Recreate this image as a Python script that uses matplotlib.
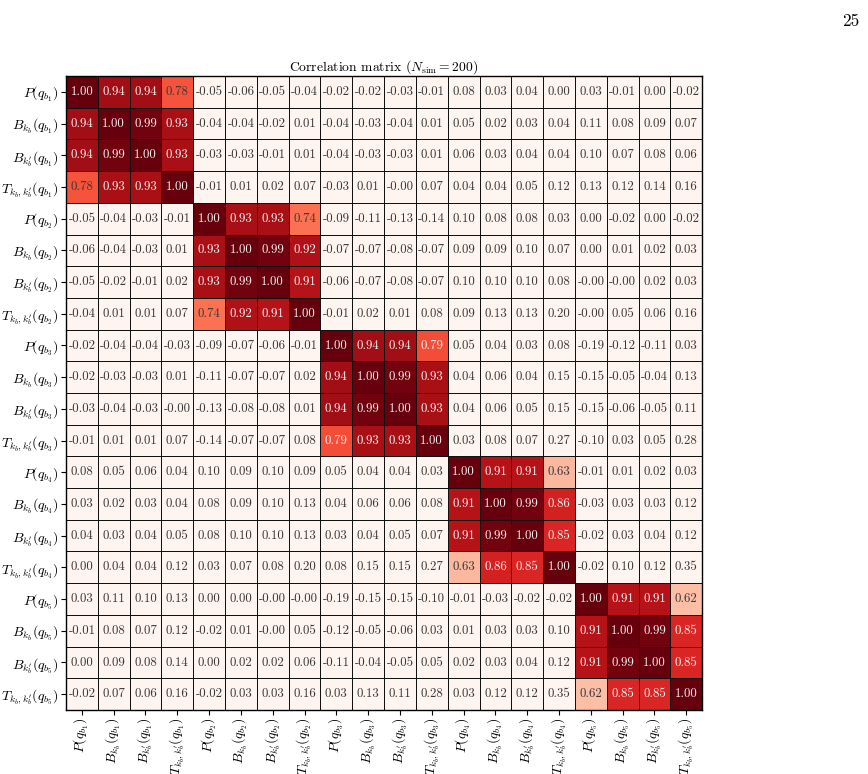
import numpy as np
import matplotlib
matplotlib.use("Agg")
import matplotlib.pyplot as plt

plt.rcParams['font.family'] = ['cmr10', 'DejaVu Serif']
plt.rcParams['mathtext.fontset'] = 'cm'
plt.rcParams['axes.formatter.use_mathtext'] = True

bins = [1, 2, 3, 4, 5]
quantities = [r"P(q_{{b_{0}}})", r"B_{{k_b}}(q_{{b_{0}}})", r"B_{{k_b'}}(q_{{b_{0}}})",
              r"T_{{k_b,k_b'}}(q_{{b_{0}}})"]
labels = ["$" + q.format(b) + "$" for b in bins for q in quantities]

corr = [
    [1.00, 0.94, 0.94, 0.78, -0.05, -0.06, -0.05, -0.04, -0.02, -0.02, -0.03, -0.01, 0.08, 0.03, 0.04, 0.00, 0.03, -0.01, 0.00, -0.02],
    [0.94, 1.00, 0.99, 0.93, -0.04, -0.04, -0.02, 0.01, -0.04, -0.03, -0.04, 0.01, 0.05, 0.02, 0.03, 0.04, 0.11, 0.08, 0.09, 0.07],
    [0.94, 0.99, 1.00, 0.93, -0.03, -0.03, -0.01, 0.01, -0.04, -0.03, -0.03, 0.01, 0.06, 0.03, 0.04, 0.04, 0.10, 0.07, 0.08, 0.06],
    [0.78, 0.93, 0.93, 1.00, -0.01, 0.01, 0.02, 0.07, -0.03, 0.01, -0.00, 0.07, 0.04, 0.04, 0.05, 0.12, 0.13, 0.12, 0.14, 0.16],
    [-0.05, -0.04, -0.03, -0.01, 1.00, 0.93, 0.93, 0.74, -0.09, -0.11, -0.13, -0.14, 0.10, 0.08, 0.08, 0.03, 0.00, -0.02, 0.00, -0.02],
    [-0.06, -0.04, -0.03, 0.01, 0.93, 1.00, 0.99, 0.92, -0.07, -0.07, -0.08, -0.07, 0.09, 0.09, 0.10, 0.07, 0.00, 0.01, 0.02, 0.03],
    [-0.05, -0.02, -0.01, 0.02, 0.93, 0.99, 1.00, 0.91, -0.06, -0.07, -0.08, -0.07, 0.10, 0.10, 0.10, 0.08, -0.00, -0.00, 0.02, 0.03],
    [-0.04, 0.01, 0.01, 0.07, 0.74, 0.92, 0.91, 1.00, -0.01, 0.02, 0.01, 0.08, 0.09, 0.13, 0.13, 0.20, -0.00, 0.05, 0.06, 0.16],
    [-0.02, -0.04, -0.04, -0.03, -0.09, -0.07, -0.06, -0.01, 1.00, 0.94, 0.94, 0.79, 0.05, 0.04, 0.03, 0.08, -0.19, -0.12, -0.11, 0.03],
    [-0.02, -0.03, -0.03, 0.01, -0.11, -0.07, -0.07, 0.02, 0.94, 1.00, 0.99, 0.93, 0.04, 0.06, 0.04, 0.15, -0.15, -0.05, -0.04, 0.13],
    [-0.03, -0.04, -0.03, -0.00, -0.13, -0.08, -0.08, 0.01, 0.94, 0.99, 1.00, 0.93, 0.04, 0.06, 0.05, 0.15, -0.15, -0.06, -0.05, 0.11],
    [-0.01, 0.01, 0.01, 0.07, -0.14, -0.07, -0.07, 0.08, 0.79, 0.93, 0.93, 1.00, 0.03, 0.08, 0.07, 0.27, -0.10, 0.03, 0.05, 0.28],
    [0.08, 0.05, 0.06, 0.04, 0.10, 0.09, 0.10, 0.09, 0.05, 0.04, 0.04, 0.03, 1.00, 0.91, 0.91, 0.63, -0.01, 0.01, 0.02, 0.03],
    [0.03, 0.02, 0.03, 0.04, 0.08, 0.09, 0.10, 0.13, 0.04, 0.06, 0.06, 0.08, 0.91, 1.00, 0.99, 0.86, -0.03, 0.03, 0.03, 0.12],
    [0.04, 0.03, 0.04, 0.05, 0.08, 0.10, 0.10, 0.13, 0.03, 0.04, 0.05, 0.07, 0.91, 0.99, 1.00, 0.85, -0.02, 0.03, 0.04, 0.12],
    [0.00, 0.04, 0.04, 0.12, 0.03, 0.07, 0.08, 0.20, 0.08, 0.15, 0.15, 0.27, 0.63, 0.86, 0.85, 1.00, -0.02, 0.10, 0.12, 0.35],
    [0.03, 0.11, 0.10, 0.13, 0.00, 0.00, -0.00, -0.00, -0.19, -0.15, -0.15, -0.10, -0.01, -0.03, -0.02, -0.02, 1.00, 0.91, 0.91, 0.62],
    [-0.01, 0.08, 0.07, 0.12, -0.02, 0.01, -0.00, 0.05, -0.12, -0.05, -0.06, 0.03, 0.01, 0.03, 0.03, 0.10, 0.91, 1.00, 0.99, 0.85],
    [0.00, 0.09, 0.08, 0.14, 0.00, 0.02, 0.02, 0.06, -0.11, -0.04, -0.05, 0.05, 0.02, 0.03, 0.04, 0.12, 0.91, 0.99, 1.00, 0.85],
    [-0.02, 0.07, 0.06, 0.16, -0.02, 0.03, 0.03, 0.16, 0.03, 0.13, 0.11, 0.28, 0.03, 0.12, 0.12, 0.35, 0.62, 0.85, 0.85, 1.00],
]
# cells printed as "-0.00" in the reference (tiny negative values)
neg_zero = {(3, 10), (6, 16), (6, 17), (7, 16), (10, 3), (16, 6), (16, 7), (17, 6)}
title = r"Correlation matrix ($N_{\rm sim} = 200$)"
page_number = "25"

C = np.array(corr)
n = C.shape[0]

fig = plt.figure(figsize=(8.68, 7.74), dpi=100)
ax = fig.add_axes([0.076, 0.0827, 0.733, 0.8191])
cmap = plt.get_cmap("Reds")
norm = plt.Normalize(vmin=0.5, vmax=1.0)
ax.pcolormesh(np.arange(n + 1), np.arange(n + 1), C, cmap=cmap, norm=norm,
              edgecolors="#111111", linewidth=0.55)
ax.set_xlim(0, n)
ax.set_ylim(n, 0)

for i in range(n):
    for j in range(n):
        v = C[i, j]
        r, g, b = cmap(norm(v))[:3]
        lum = 0.2126 * r + 0.7152 * g + 0.0722 * b
        col = "#f4eeee" if lum < 0.45 else "#383838"
        s = "-0.00" if (i, j) in neg_zero else f"{v:.2f}"
        ax.text(j + 0.5, i + 0.5, s, ha="center", va="center", fontsize=9.3, color=col)

ax.set_xticks(np.arange(n) + 0.5)
ax.set_yticks(np.arange(n) + 0.5)
ax.set_xticklabels(labels, rotation=90, fontsize=10)
ax.set_yticklabels(labels, fontsize=10)
ax.tick_params(length=3.5, width=0.8, pad=2)
for sp in ax.spines.values():
    sp.set_linewidth(1.0)
ax.set_title(title, fontsize=9.8, pad=3)

fig.text(0.99, 0.982, page_number, ha="right", va="top", fontsize=12.5)

fig.savefig("out.png", dpi=100)
